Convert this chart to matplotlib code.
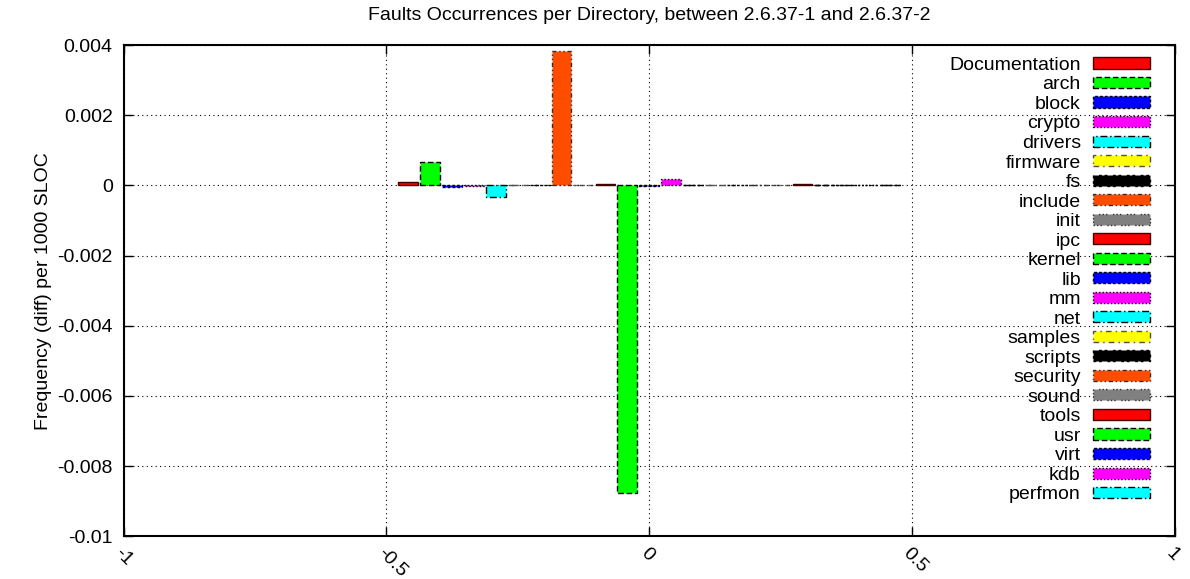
import numpy as np
import matplotlib
matplotlib.use("Agg")
import matplotlib.pyplot as plt

plt.rcParams['font.family'] = ['Liberation Sans', 'DejaVu Sans']

directories = ['Documentation', 'arch', 'block', 'crypto', 'drivers', 'firmware',
               'fs', 'include', 'init', 'ipc', 'kernel', 'lib', 'mm', 'net',
               'samples', 'scripts', 'security', 'sound', 'tools', 'usr', 'virt',
               'kdb', 'perfmon']
freq_diff = [0.00009, 0.00068, -0.00004, -0.00002, -0.00032, 0.00002,
             0.00002, 0.00384, 0.00001, 0.00003, -0.00877, -0.00002, 0.00017,
             0.00002, 0.00002, 0.00002, 0.00002, 0.00001, 0.00003, 0.00002,
             0.00002, 0.00002, 0.00002]

xtick_vals = [-1, -0.5, 0, 0.5, 1]
xtick_labels = ['-1', '-0.5', '0', '0.5', '1']
ytick_vals = [-0.01, -0.008, -0.006, -0.004, -0.002, 0, 0.002, 0.004]
ytick_labels = ['-0.01', '-0.008', '-0.006', '-0.004', '-0.002', '0', '0.002', '0.004']

# gnuplot-ish linetype cycle
lt_colors = ['#ff0000', '#00ff00', '#0000ff', '#ff00ff', '#00ffff',
             '#ffff00', '#000000', '#ff4d00', '#808080']
lt_dashes = ['-', (0, (4, 2)), (0, (2, 1.5)), (0, (1, 1.5)), (0, (5, 2, 1, 2)),
             (0, (4, 3, 1, 3)), (0, (2, 2, 2, 4)), (0, (3, 2, 1, 2, 1, 2)),
             (0, (1, 1.5, 1, 1.5, 1, 4))]
edge_colors = ['#400000', '#000000', '#000000', '#000000', '#000000',
               '#505050', '#000000', '#303030', '#303030']

fig = plt.figure(figsize=(11.9, 5.79), dpi=100)
ax = fig.add_axes([0.104, 0.074, 0.883, 0.848])

n = len(directories)
slot = 1.0 / (n + 1)
for i, (name, val) in enumerate(zip(directories, freq_diff)):
    k = i % len(lt_colors)
    ax.bar((i - (n - 1) / 2) * slot, val, width=slot * 0.9,
           color=lt_colors[k], edgecolor=edge_colors[k],
           linestyle=lt_dashes[k], linewidth=1.0, label=name, zorder=3)

ax.set_xlim(-1, 1)
ax.set_ylim(-0.01, 0.004)
ax.set_xticks(xtick_vals)
ax.set_xticklabels(xtick_labels, rotation=-45, ha='left', va='top',
                   rotation_mode='anchor')
ax.set_yticks(ytick_vals)
ax.set_yticklabels(ytick_labels)
ax.tick_params(direction='in', length=6.5, width=1.0, top=True, right=True,
               labelsize=14)
ax.tick_params(axis='x', pad=6)
ax.tick_params(axis='y', pad=8)
ax.grid(True, color='black', linestyle=(0, (1, 3)), linewidth=0.8, zorder=0)
for sp in ax.spines.values():
    sp.set_linewidth(1.5)

ax.set_title('Faults Occurrences per Directory, between 2.6.37-1 and 2.6.37-2',
             fontsize=14, pad=18)
ax.set_ylabel('Frequency (diff) per 1000 SLOC', fontsize=14, labelpad=4)

ax.legend(loc='upper right', bbox_to_anchor=(0.982, 0.988), markerfirst=False,
          frameon=False, fontsize=14, handlelength=2.93, handleheight=0.5,
          handletextpad=0.62, labelspacing=0.13, borderaxespad=0, borderpad=0.3)

fig.savefig('out.png', dpi=100)
